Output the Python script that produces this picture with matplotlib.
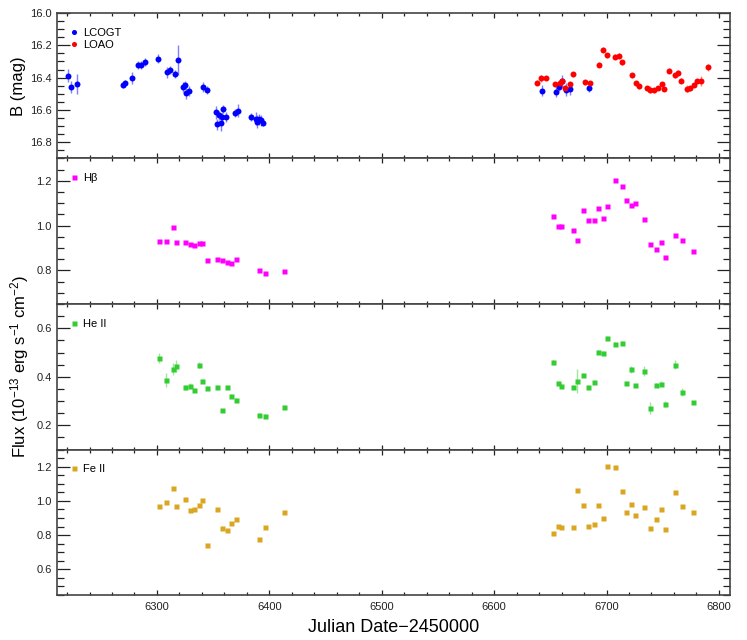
import numpy as np
import matplotlib
matplotlib.use('Agg')
import matplotlib.pyplot as plt
from matplotlib.ticker import MultipleLocator

plt.rcParams['font.family'] = ['Liberation Sans', 'DejaVu Sans']
plt.rcParams['mathtext.fontset'] = 'custom'
plt.rcParams['mathtext.rm'] = 'Liberation Sans'
plt.rcParams['mathtext.it'] = 'Liberation Sans:italic'
plt.rcParams['mathtext.bf'] = 'Liberation Sans:bold'

# B-band photometry, LCOGT
lcogt_jd = [6220.6, 6223.5, 6229.2, 6269.5, 6271.6, 6277.5, 6283.2, 6285.5, 6289.4, 6301.3,
            6308.7, 6311.3, 6316.1, 6319.0, 6323.5, 6325.0, 6325.9, 6328.8, 6340.7, 6344.8,
            6352.3, 6353.7, 6355.2, 6356.7, 6357.6, 6358.8, 6361.2, 6369.8, 6371.8, 6384.0,
            6388.1, 6389.0, 6390.5, 6392.3, 6394.4,
            6642.8, 6654.7, 6657.7, 6660.6, 6663.6, 6667.1, 6684.6]
lcogt_b = [16.387, 16.458, 16.441, 16.445, 16.435, 16.404, 16.321, 16.323, 16.304, 16.282,
           16.366, 16.354, 16.377, 16.288, 16.458, 16.445, 16.493, 16.484, 16.458, 16.474,
           16.613, 16.689, 16.634, 16.683, 16.642, 16.596, 16.642, 16.621, 16.605, 16.642,
           16.654, 16.673, 16.658, 16.663, 16.681,
           16.480, 16.487, 16.455, 16.420, 16.474, 16.472, 16.466]
lcogt_err = [0.038, 0.036, 0.062, 0.02, 0.02, 0.038, 0.025, 0.025, 0.025, 0.03,
             0.035, 0.025, 0.025, 0.093, 0.03, 0.025, 0.04, 0.03, 0.03, 0.025,
             0.04, 0.036, 0.03, 0.045, 0.03, 0.025, 0.03, 0.025, 0.04, 0.025,
             0.04, 0.04, 0.035, 0.035, 0.02,
             0.035, 0.03, 0.03, 0.035, 0.04, 0.035, 0.025]

# B-band photometry, LOAO
loao_jd = [6638.4, 6641.9, 6646.1, 6653.8, 6658.5, 6660.0, 6663.0, 6667.1, 6669.8, 6680.8,
           6685.5, 6693.5, 6696.8, 6700.1, 6707.8, 6710.7, 6713.7, 6722.6, 6725.9, 6728.8,
           6735.9, 6738.9, 6741.9, 6745.7, 6749.6, 6751.4, 6755.5, 6760.6, 6763.5, 6766.5,
           6771.2, 6774.5, 6777.5, 6780.4, 6783.7, 6790.5]
loao_b = [16.431, 16.404, 16.402, 16.439, 16.431, 16.422, 16.464, 16.439, 16.379, 16.429,
          16.435, 16.321, 16.226, 16.261, 16.271, 16.263, 16.304, 16.385, 16.435, 16.453,
          16.466, 16.474, 16.478, 16.464, 16.441, 16.470, 16.356, 16.385, 16.369, 16.418,
          16.468, 16.466, 16.445, 16.422, 16.420, 16.337]
loao_err = [0.015, 0.02, 0.015, 0.015, 0.015, 0.015, 0.02, 0.015, 0.015, 0.015,
            0.015, 0.015, 0.015, 0.015, 0.015, 0.015, 0.015, 0.015, 0.015, 0.015,
            0.015, 0.02, 0.015, 0.015, 0.015, 0.015, 0.015, 0.015, 0.015, 0.015,
            0.02, 0.015, 0.015, 0.015, 0.03, 0.02]

# spectroscopic epochs
spec_jd_left = [6302.1, 6308.1, 6314.0, 6317.2, 6325.0, 6329.1, 6333.0, 6337.0, 6340.1,
                6344.8, 6353.7, 6357.8, 6361.9, 6365.9, 6370.0, 6390.5, 6395.9, 6412.8]
spec_jd_right = [6652.6, 6656.8, 6659.4, 6670.4, 6673.7, 6679.3, 6683.5, 6688.5, 6692.4,
                 6696.5, 6700.4, 6707.5, 6713.4, 6717.3, 6721.4, 6725.3, 6733.3, 6738.3,
                 6744.2, 6748.4, 6752.3, 6761.2, 6767.1, 6777.2]
spec_jd = spec_jd_left + spec_jd_right

hbeta = [0.933, 0.932, 0.996, 0.926, 0.926, 0.920, 0.912, 0.923, 0.921,
         0.848, 0.851, 0.848, 0.839, 0.832, 0.852, 0.800, 0.788, 0.797,
         1.045, 0.999, 1.000, 0.982, 0.935, 1.072, 1.024, 1.024, 1.079,
         1.036, 1.090, 1.203, 1.176, 1.113, 1.091, 1.102, 1.031, 0.920,
         0.896, 0.926, 0.861, 0.958, 0.936, 0.885]

heii = [0.476, 0.386, 0.433, 0.444, 0.356, 0.361, 0.346, 0.450, 0.383,
        0.352, 0.356, 0.261, 0.357, 0.320, 0.306, 0.244, 0.240, 0.276,
        0.459, 0.374, 0.363, 0.357, 0.383, 0.407, 0.359, 0.377, 0.502,
        0.498, 0.559, 0.535, 0.541, 0.375, 0.430, 0.364, 0.425, 0.272,
        0.367, 0.372, 0.288, 0.450, 0.337, 0.294]
heii_err = [0.02, 0.03, 0.025, 0.025, 0.012, 0.012, 0.008, 0.012, 0.008,
            0.008, 0.008, 0.008, 0.008, 0.008, 0.008, 0.008, 0.008, 0.008,
            0.01, 0.008, 0.01, 0.008, 0.05, 0.008, 0.008, 0.008, 0.008,
            0.01, 0.008, 0.008, 0.008, 0.008, 0.015, 0.008, 0.02, 0.025,
            0.008, 0.01, 0.012, 0.02, 0.015, 0.008]

feii = [0.968, 0.991, 1.073, 0.970, 1.013, 0.949, 0.954, 0.974, 1.003,
        0.742, 0.952, 0.843, 0.832, 0.873, 0.896, 0.775, 0.849, 0.933,
        0.812, 0.855, 0.849, 0.845, 1.064, 0.974, 0.853, 0.865, 0.974,
        0.900, 1.206, 1.196, 1.060, 0.937, 0.984, 0.919, 0.964, 0.843,
        0.892, 0.954, 0.835, 1.052, 0.972, 0.933]

fig, axes = plt.subplots(4, 1, figsize=(7.47, 6.4), dpi=100, sharex=True)
fig.subplots_adjust(left=0.0759, right=0.977, top=0.9797, bottom=0.0703, hspace=0)

spine_col = '#444444'
for ax in axes:
    ax.set_xlim(6210.8, 6809.7)
    ax.xaxis.set_major_locator(MultipleLocator(100))
    ax.xaxis.set_minor_locator(MultipleLocator(20))
    ax.yaxis.set_major_locator(MultipleLocator(0.2))
    ax.yaxis.set_minor_locator(MultipleLocator(0.05))
    ax.tick_params(axis='both', which='both', direction='in', top=True, right=True,
                   labelsize=8, colors='#222222', width=0.9)
    ax.tick_params(axis='y', which='major', length=9.4)
    ax.tick_params(axis='y', which='minor', length=5)
    ax.tick_params(axis='x', which='major', length=3.6, pad=5)
    ax.tick_params(axis='x', which='minor', length=2.2)
    for s in ax.spines.values():
        s.set_color(spine_col)
        s.set_linewidth(1.2)

leg_kw = dict(loc='upper left', bbox_to_anchor=(0.0187, 0.898), borderaxespad=0,
              borderpad=0, frameon=False, fontsize=8, handlelength=0.8,
              handletextpad=0.45, labelspacing=0.15)

# B band
ax = axes[0]
ax.errorbar(lcogt_jd, lcogt_b, yerr=lcogt_err, fmt='none', ecolor='#7f7fff', elinewidth=1)
ax.errorbar(loao_jd, loao_b, yerr=loao_err, fmt='none', ecolor='#ff8080', elinewidth=1)
ax.plot(lcogt_jd, lcogt_b, 'o', color='#0000ff', ms=4.3, mec='none', label='LCOGT')
ax.plot(loao_jd, loao_b, 'o', color='#ff0000', ms=4.3, mec='none', label='LOAO')
ax.set_ylim(16.9, 16.0)
ax.set_ylabel('B (mag)', fontsize=12)
ax.yaxis.set_label_coords(-0.046, 0.5)
ax.legend(markerscale=0.85, **leg_kw)

# Hbeta
ax = axes[1]
ax.plot(spec_jd, hbeta, 's', color='#ff00ff', ms=3.6, mec='none', label='H\u03b2')
ax.set_ylim(0.65, 1.3)
ax.legend(**leg_kw)

# He II
ax = axes[2]
ax.errorbar(spec_jd, heii, yerr=heii_err, fmt='none', ecolor='#9ee89e', elinewidth=1)
ax.plot(spec_jd, heii, 's', color='#32cd32', ms=3.6, mec='none', label='He II')
ax.set_ylim(0.1, 0.7)
ax.legend(**leg_kw)

# Fe II
ax = axes[3]
ax.plot(spec_jd, feii, 's', color='#daa520', ms=3.6, mec='none', label='Fe II')
ax.set_ylim(0.45, 1.3)
ax.legend(**leg_kw)
ax.set_xlabel('Julian Date\u22122450000', fontsize=13, labelpad=5)

fig.text(0.026, 0.427, r'Flux (10$^{-13}$ erg s$^{-1}$ cm$^{-2}$)', rotation=90,
         ha='center', va='center', fontsize=12)

fig.savefig('out.png', dpi=100)
